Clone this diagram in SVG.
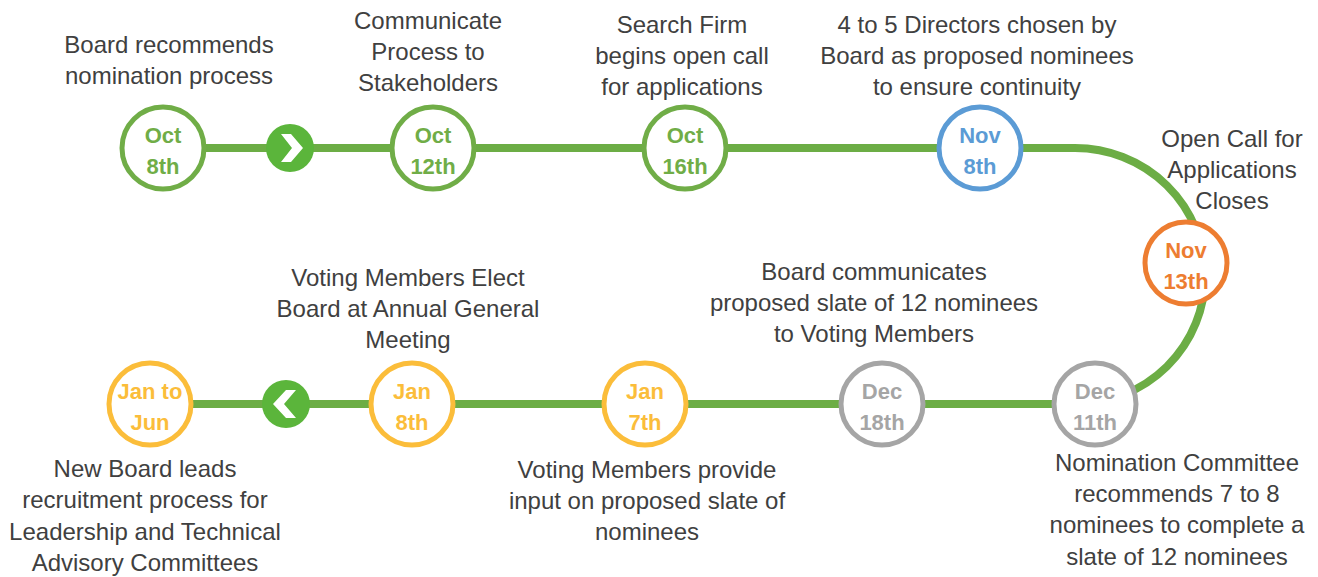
<svg xmlns="http://www.w3.org/2000/svg" width="1318" height="577" viewBox="0 0 1318 577">
  <style>
    .label { font-family: "Liberation Sans", Arial, sans-serif; font-size: 24px; fill: #404040; text-anchor: middle; }
    .date { font-family: "Liberation Sans", Arial, sans-serif; font-size: 22px; font-weight: bold; text-anchor: middle; }
    .ring { fill: #ffffff; stroke-width: 5; }
    .green { stroke: #70ad47; } .green-t { fill: #70ad47; }
    .blue { stroke: #5b9bd5; } .blue-t { fill: #5b9bd5; }
    .orange { stroke: #ed7d31; } .orange-t { fill: #ed7d31; }
    .gray { stroke: #a5a5a5; } .gray-t { fill: #a5a5a5; }
    .yellow { stroke: #fbbd3a; } .yellow-t { fill: #fbbd3a; }
    .track { fill: none; stroke: #6cad45; stroke-width: 8; }
    .dir { fill: #5bb53b; }
    .chev { fill: #ffffff; }
  </style>

  <!-- timeline track -->
  <g id="connectors">
    <path class="track" d="M 163 148 L 1075 148 A 130 128 0 0 1 1075 404 L 150 404"/>
  </g>

  <!-- direction markers -->
  <g id="arrow-forward">
    <circle class="dir" cx="290" cy="148" r="24"/>
    <polygon class="chev" points="281,134 291,134 303,148 291,162 281,162 292,148"/>
  </g>
  <g id="arrow-back">
    <circle class="dir" cx="286" cy="404" r="24"/>
    <polygon class="chev" points="296,390 286,390 273,404 286,418 296,418 284,404"/>
  </g>

  <!-- milestones -->
  <g id="oct8">
    <circle class="ring green" cx="163" cy="148" r="41"/>
    <text class="date green-t" x="163" y="143">Oct</text>
    <text class="date green-t" x="163" y="174">8th</text>
    <text class="label" x="169" y="53">Board recommends</text>
    <text class="label" x="169" y="84">nomination process</text>
  </g>

  <g id="oct12">
    <circle class="ring green" cx="433" cy="148" r="41"/>
    <text class="date green-t" x="433" y="143">Oct</text>
    <text class="date green-t" x="433" y="174">12th</text>
    <text class="label" x="428" y="29">Communicate</text>
    <text class="label" x="428" y="60">Process to</text>
    <text class="label" x="428" y="91">Stakeholders</text>
  </g>

  <g id="oct16">
    <circle class="ring green" cx="685" cy="148" r="41"/>
    <text class="date green-t" x="685" y="143">Oct</text>
    <text class="date green-t" x="685" y="174">16th</text>
    <text class="label" x="682" y="33">Search Firm</text>
    <text class="label" x="682" y="64">begins open call</text>
    <text class="label" x="682" y="95">for applications</text>
  </g>

  <g id="nov8">
    <circle class="ring blue" cx="980" cy="148" r="41"/>
    <text class="date blue-t" x="980" y="143">Nov</text>
    <text class="date blue-t" x="980" y="174">8th</text>
    <text class="label" x="977" y="33">4 to 5 Directors chosen by</text>
    <text class="label" x="977" y="64">Board as proposed nominees</text>
    <text class="label" x="977" y="95">to ensure continuity</text>
  </g>

  <g id="nov13">
    <circle class="ring orange" cx="1186" cy="263" r="41"/>
    <text class="date orange-t" x="1186" y="258">Nov</text>
    <text class="date orange-t" x="1186" y="289">13th</text>
    <text class="label" x="1232" y="147">Open Call for</text>
    <text class="label" x="1232" y="178">Applications</text>
    <text class="label" x="1232" y="209">Closes</text>
  </g>

  <g id="dec11">
    <circle class="ring gray" cx="1095" cy="404" r="41"/>
    <text class="date gray-t" x="1095" y="399">Dec</text>
    <text class="date gray-t" x="1095" y="430">11th</text>
    <text class="label" x="1177" y="471">Nomination Committee</text>
    <text class="label" x="1177" y="502">recommends 7 to 8</text>
    <text class="label" x="1177" y="533">nominees to complete a</text>
    <text class="label" x="1177" y="565">slate of 12 nominees</text>
  </g>

  <g id="dec18">
    <circle class="ring gray" cx="882" cy="404" r="41"/>
    <text class="date gray-t" x="882" y="399">Dec</text>
    <text class="date gray-t" x="882" y="430">18th</text>
    <text class="label" x="874" y="280">Board communicates</text>
    <text class="label" x="874" y="311">proposed slate of 12 nominees</text>
    <text class="label" x="874" y="342">to Voting Members</text>
  </g>

  <g id="jan7">
    <circle class="ring yellow" cx="645" cy="404" r="41"/>
    <text class="date yellow-t" x="645" y="399">Jan</text>
    <text class="date yellow-t" x="645" y="430">7th</text>
    <text class="label" x="647" y="478">Voting Members provide</text>
    <text class="label" x="647" y="509">input on proposed slate of</text>
    <text class="label" x="647" y="540">nominees</text>
  </g>

  <g id="jan8">
    <circle class="ring yellow" cx="412" cy="404" r="41"/>
    <text class="date yellow-t" x="412" y="399">Jan</text>
    <text class="date yellow-t" x="412" y="430">8th</text>
    <text class="label" x="408" y="286">Voting Members Elect</text>
    <text class="label" x="408" y="317">Board at Annual General</text>
    <text class="label" x="408" y="348">Meeting</text>
  </g>

  <g id="jan-jun">
    <circle class="ring yellow" cx="150" cy="404" r="41"/>
    <text class="date yellow-t" x="150" y="399">Jan to</text>
    <text class="date yellow-t" x="150" y="430">Jun</text>
    <text class="label" x="145" y="477">New Board leads</text>
    <text class="label" x="145" y="508">recruitment process for</text>
    <text class="label" x="145" y="540">Leadership and Technical</text>
    <text class="label" x="145" y="571">Advisory Committees</text>
  </g>
</svg>
